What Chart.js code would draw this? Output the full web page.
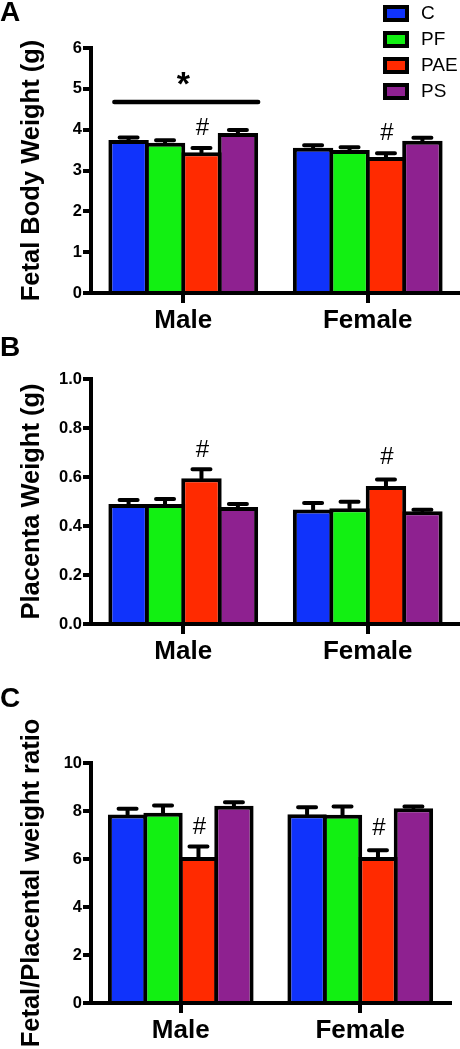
<!DOCTYPE html>
<html>
<head>
<meta charset="utf-8">
<script src="https://cdn.jsdelivr.net/npm/chart.js@4.4.0/dist/chart.umd.min.js"></script>
<style>
body { margin: 0; background: #fff; width: 460px; height: 1049px; position: relative; overflow: hidden; font-family: 'Liberation Sans', Arial, sans-serif; }
canvas { position: absolute; left: 0; }
.tag { position: absolute; left: 0; font-weight: bold; font-size: 28px; line-height: 28px; color: #000; z-index: 2; }
</style>
</head>
<body>
<canvas id="chartA" width="460" height="340" style="top:0"></canvas>
<canvas id="chartB" width="460" height="340" style="top:340px"></canvas>
<canvas id="chartC" width="460" height="369" style="top:680px"></canvas>
<div class="tag" style="top:-2px">A</div>
<div class="tag" style="top:333px">B</div>
<div class="tag" style="top:684px">C</div>
<script>
const FONT = "'Liberation Sans', Arial, sans-serif";

const sexes = ['Male', 'Female'];
const groups = ['C', 'PF', 'PAE', 'PS'];
const groupColors = ['#1033fb', '#12f012', '#ff2a00', '#8e2190'];

// A - fetal body weight (g), order C, PF, PAE, PS
const fetalMale = [3.75, 3.68, 3.45, 3.92];
const fetalMaleErr = [0.06, 0.06, 0.10, 0.07];
const fetalFemale = [3.56, 3.50, 3.33, 3.73];
const fetalFemaleErr = [0.06, 0.07, 0.09, 0.07];

// B - placenta weight (g)
const placentaMale = [0.490, 0.490, 0.595, 0.478];
const placentaMaleErr = [0.016, 0.020, 0.037, 0.012];
const placentaFemale = [0.467, 0.472, 0.563, 0.460];
const placentaFemaleErr = [0.027, 0.027, 0.027, 0.006];

// C - fetal/placental weight ratio
const ratioMale = [7.85, 7.93, 6.08, 8.22];
const ratioMaleErr = [0.24, 0.30, 0.44, 0.14];
const ratioFemale = [7.86, 7.84, 6.08, 8.11];
const ratioFemaleErr = [0.30, 0.35, 0.28, 0.08];

// significance marks (value level of the mark, [Male, Female])
const fetalHash = [4.02, 3.92];
const placentaHash = [0.71, 0.68];
const ratioHash = [7.33, 7.29];
const fetalSigLine = 4.68;
const fetalSigStar = 5.22;

const marksPlugin = {
    id: 'marks',
    afterDatasetsDraw(chart) {
        const ctx = chart.ctx;
        const cfg = chart.options.plugins.marks;
        const y = chart.scales.y;
        ctx.save();
        ctx.strokeStyle = '#000';
        ctx.fillStyle = '#000';
        ctx.lineCap = 'round';
        ctx.lineWidth = 4;
        // error bars (upper half only)
        chart.data.datasets.forEach((ds, i) => {
            chart.getDatasetMeta(i).data.forEach((bar, j) => {
                const top = y.getPixelForValue(ds.data[j] + ds.err[j]);
                ctx.beginPath();
                ctx.moveTo(bar.x, bar.y);
                ctx.lineTo(bar.x, top);
                ctx.moveTo(bar.x - 9, top);
                ctx.lineTo(bar.x + 9, top);
                ctx.stroke();
            });
        });
        // # above PAE bars
        ctx.font = '24px ' + FONT;
        ctx.textAlign = 'center';
        ctx.textBaseline = 'middle';
        chart.getDatasetMeta(2).data.forEach((bar, j) => {
            ctx.fillText('#', bar.x + 1, y.getPixelForValue(cfg.hash[j]));
        });
        // * over the male group
        if (cfg.sigLine) {
            const first = chart.getDatasetMeta(0).data[0];
            const last = chart.getDatasetMeta(3).data[0];
            const ly = y.getPixelForValue(cfg.sigLine);
            ctx.lineWidth = 4.5;
            ctx.beginPath();
            ctx.moveTo(first.x - first.width / 2 + 6, ly);
            ctx.lineTo(last.x + last.width / 2, ly);
            ctx.stroke();
            ctx.font = 'bold 34px ' + FONT;
            ctx.fillText('*', chart.scales.x.getPixelForValue(0), y.getPixelForValue(cfg.sigStar) + 6);
        }
        // legend box top right
        if (cfg.legend) {
            ctx.font = '19px ' + FONT;
            ctx.textAlign = 'left';
            groups.forEach((g, i) => {
                const by = 5 + i * 26;
                ctx.fillStyle = '#000';
                ctx.fillRect(383, by, 26, 17);
                ctx.fillStyle = groupColors[i];
                ctx.fillRect(387, by + 4, 18, 9);
                ctx.fillStyle = '#000';
                ctx.fillText(g, 421, by + 9);
            });
        }
        ctx.restore();
    }
};

function makeChart(id, cfg) {
    const datasets = groups.map((g, i) => ({
        label: g,
        data: [cfg.male[i], cfg.female[i]],
        err: [cfg.maleErr[i], cfg.femaleErr[i]],
        backgroundColor: groupColors[i],
        borderColor: '#000',
        borderWidth: 4,
        categoryPercentage: 0.79,
        barPercentage: 1.11
    }));

    return new Chart(document.getElementById(id).getContext('2d'), {
        type: 'bar',
        data: { labels: sexes, datasets: datasets },
        options: {
            responsive: false,
            animation: false,
            layout: { padding: { top: cfg.top, right: cfg.right, left: 0, bottom: 0 } },
            plugins: {
                legend: { display: false },
                tooltip: { enabled: false },
                marks: { hash: cfg.hash, sigLine: cfg.sigLine, sigStar: cfg.sigStar, legend: cfg.legend }
            },
            scales: {
                x: {
                    grid: { display: true, drawOnChartArea: false, offset: false, color: '#000', lineWidth: 4, tickLength: 10 },
                    border: { display: true, color: '#000', width: 4 },
                    ticks: { color: '#000', padding: 2, font: { family: FONT, size: 26, weight: 'bold' } },
                    afterFit: s => { s.height = cfg.xh; }
                },
                y: {
                    min: 0,
                    max: cfg.max,
                    ticks: {
                        stepSize: cfg.step,
                        color: '#000',
                        padding: 1,
                        font: { family: FONT, size: 16.5, weight: 'bold' },
                        callback: v => v.toFixed(cfg.decimals)
                    },
                    grid: { display: true, drawOnChartArea: false, color: '#000', lineWidth: 4, tickLength: 8 },
                    border: { display: true, color: '#000', width: 4 },
                    title: {
                        display: true,
                        text: cfg.title,
                        color: '#000',
                        font: { family: FONT, size: 25.5, weight: 'bold' },
                        padding: { top: 17, bottom: 0 }
                    },
                    afterFit: s => { s.width = 91; }
                }
            }
        },
        plugins: [marksPlugin]
    });
}

makeChart('chartA', {
    male: fetalMale, maleErr: fetalMaleErr, female: fetalFemale, femaleErr: fetalFemaleErr,
    max: 6, step: 1, decimals: 0, title: 'Fetal Body Weight (g)',
    top: 48, xh: 47, right: 0, hash: fetalHash,
    sigLine: fetalSigLine, sigStar: fetalSigStar, legend: true
});

makeChart('chartB', {
    male: placentaMale, maleErr: placentaMaleErr, female: placentaFemale, femaleErr: placentaFemaleErr,
    max: 1, step: 0.2, decimals: 1, title: 'Placenta Weight (g)',
    top: 39, xh: 56, right: 0, hash: placentaHash
});

makeChart('chartC', {
    male: ratioMale, maleErr: ratioMaleErr, female: ratioFemale, femaleErr: ratioFemaleErr,
    max: 10, step: 2, decimals: 0, title: 'Fetal/Placental weight ratio',
    top: 83, xh: 46, right: 10, hash: ratioHash
});
</script>
</body>
</html>
